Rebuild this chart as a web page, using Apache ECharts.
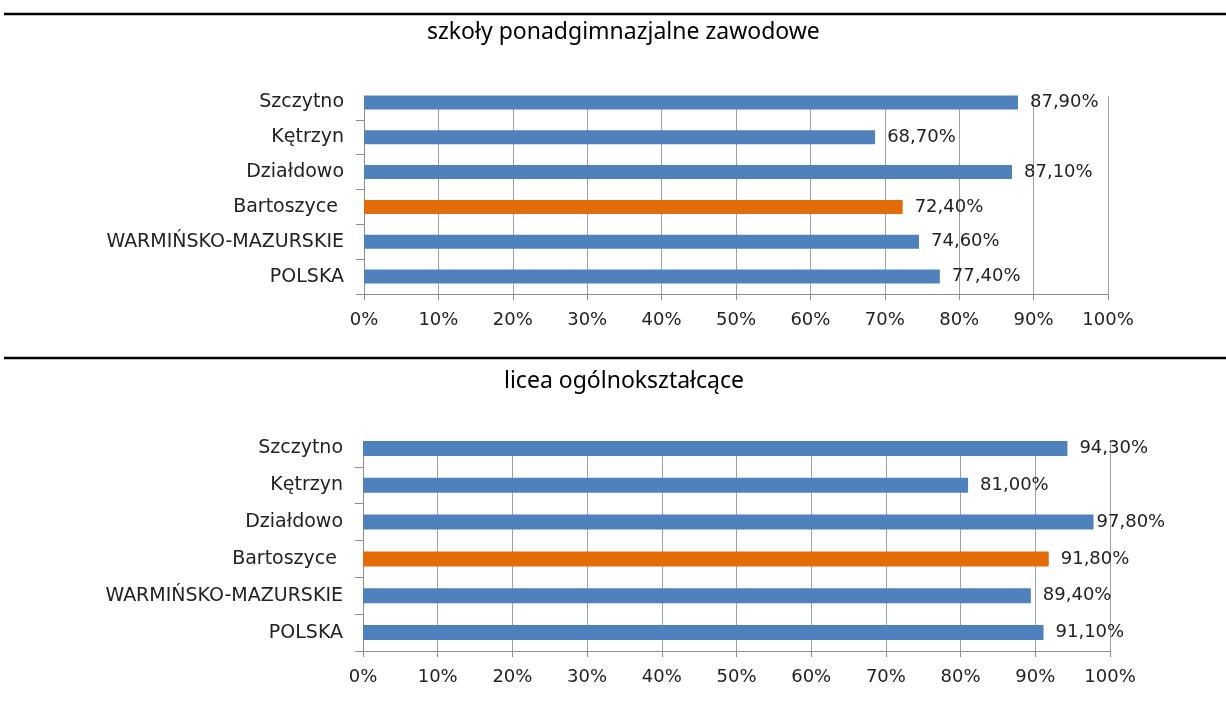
<!DOCTYPE html>
<html>
<head>
<meta charset="utf-8">
<script src="https://cdn.jsdelivr.net/npm/echarts@6/dist/echarts.min.js"></script>
<style>
  body { margin: 0; background: #fff; }
  #chart { width: 1226px; height: 709px; }
</style>
</head>
<body>
<div id="chart"></div>
<script>
var categories = ['Szczytno', 'Kętrzyn', 'Działdowo', 'Bartoszyce ', 'WARMIŃSKO-MAZURSKIE', 'POLSKA'];
var zawodowe = [87.9, 68.7, 87.1, 72.4, 74.6, 77.4];
var licea = [94.3, 81.0, 97.8, 91.8, 89.4, 91.1];
var titles = ['szkoły ponadgimnazjalne zawodowe', 'licea ogólnokształcące'];
var highlight = 'Bartoszyce ';

(function() {
  var chart = echarts.init(document.getElementById('chart'));
  var font = 'DejaVu Sans';

  function barData(values) {
    return values.map((v, i) => {
      var item = {
        value: v,
        itemStyle: { color: categories[i] === highlight ? '#E36C09' : '#4F81BD' }
      };
      // Excel pulls the label in when it would run past the plot
      if (v > 95) item.label = { distance: 3 };
      return item;
    });
  }

  function xAxis(idx) {
    return {
      gridIndex: idx,
      type: 'value',
      min: 0,
      max: 100,
      interval: 10,
      axisLine: { show: true, lineStyle: { color: '#8c8c8c' } },
      axisTick: { show: true, length: 6, lineStyle: { color: '#8c8c8c' } },
      splitLine: { show: true, lineStyle: { color: '#a0a0a0' } },
      axisLabel: {
        margin: 17,
        color: '#222',
        fontFamily: font,
        fontSize: 18,
        formatter: '{value}%'
      }
    };
  }

  function yAxis(idx) {
    return {
      gridIndex: idx,
      type: 'category',
      inverse: true,
      data: categories,
      axisLine: { show: true, lineStyle: { color: '#8c8c8c' } },
      axisTick: { show: true, length: 8, lineStyle: { color: '#8c8c8c' } },
      axisLabel: {
        margin: 20,
        color: '#222',
        fontFamily: font,
        fontSize: 19
      }
    };
  }

  function series(idx, values, width) {
    return {
      type: 'bar',
      xAxisIndex: idx,
      yAxisIndex: idx,
      barWidth: width,
      data: barData(values),
      label: {
        show: true,
        position: 'right',
        distance: 12,
        color: '#222',
        fontFamily: font,
        fontSize: 18,
        formatter: p => p.value.toFixed(2).replace('.', ',') + '%'
      }
    };
  }

  var titleStyle = { fontFamily: 'Noto Sans', fontSize: 23, fontWeight: 'normal', color: '#000' };

  var option = {
    animation: false,
    backgroundColor: '#fff',
    title: [
      { text: titles[0], left: 422, top: 16, textStyle: titleStyle },
      { text: titles[1], left: 499, top: 365, textStyle: titleStyle }
    ],
    grid: [
      { left: 364, right: 118, top: 85, height: 209 },
      { left: 363, right: 116, top: 430, height: 221 }
    ],
    xAxis: [xAxis(0), xAxis(1)],
    yAxis: [yAxis(0), yAxis(1)],
    series: [series(0, zawodowe, 14), series(1, licea, 15)],
    graphic: [
      { type: 'line', shape: { x1: 4, y1: 14, x2: 1226, y2: 14 }, style: { stroke: '#000', lineWidth: 2.5 } },
      { type: 'line', shape: { x1: 4, y1: 358, x2: 1226, y2: 358 }, style: { stroke: '#000', lineWidth: 2.5 } },
      // the plot area in the original is clipped at the first bar's top edge
      { type: 'rect', z: 1, shape: { x: 350, y: 82, width: 765, height: 14 }, style: { fill: '#fff' } },
      { type: 'rect', z: 1, shape: { x: 350, y: 427, width: 765, height: 14 }, style: { fill: '#fff' } }
    ]
  };
  chart.setOption(option);
})();
</script>
</body>
</html>
